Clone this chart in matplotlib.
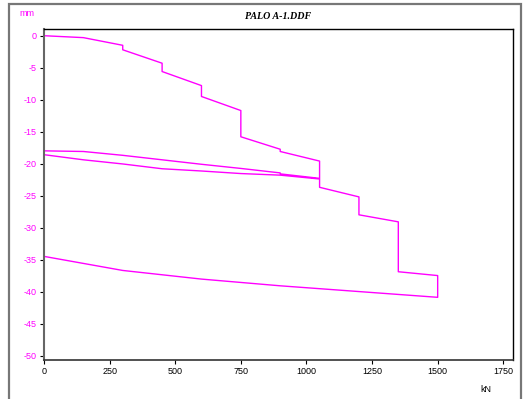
import matplotlib.pyplot as plt
from matplotlib.patches import Rectangle

# load test polyline (load in kN, settlement in mm)
load_kn = [0, 150, 300, 300, 450, 450, 600, 600, 750, 750, 900, 900, 1050,
           1050, 900, 900, 750, 600, 450, 300, 150, 0,
           0, 150, 300, 450, 600, 750, 900, 1050,
           1050, 1200, 1200, 1350, 1350, 1500,
           1500, 1200, 900, 600, 300, 0]
settle_mm = [0, -0.3, -1.5, -2.2, -4.3, -5.6, -7.8, -9.5, -11.7, -15.8, -17.75, -18.1, -19.6,
             -22.3, -21.6, -21.45, -20.75, -20.1, -19.4, -18.7, -18.1, -18.0,
             -18.6, -19.4, -20.05, -20.8, -21.15, -21.55, -21.8, -22.4,
             -23.7, -25.2, -28.0, -29.1, -36.9, -37.5,
             -40.9, -40.0, -39.1, -38.05, -36.7, -34.5]

x_ticks = [0, 250, 500, 750, 1000, 1250, 1500, 1750]
y_ticks = [0, -5, -10, -15, -20, -25, -30, -35, -40, -45, -50]

plt.rcParams['font.family'] = ['Liberation Sans', 'DejaVu Sans']
plt.rcParams['axes.unicode_minus'] = False

fig = plt.figure(figsize=(5.25, 3.99), dpi=100)
fig.patch.set_facecolor('white')

# outer frame
fig.patches.append(Rectangle((9 / 525, -0.05), 512 / 525, 1 - 4 / 399 + 0.05,
                             transform=fig.transFigure, fill=False,
                             edgecolor='#777777', linewidth=1.6))

ax = fig.add_axes([44 / 525, 1 - 360 / 399, (513 - 44) / 525, (360 - 29) / 399])
ax.plot(load_kn, settle_mm, color='#ff00ff', linewidth=1.0)

ax.set_xlim(0, 1787)
ax.set_ylim(-50.7, 1.05)
ax.set_xticks(x_ticks)
ax.set_yticks(y_ticks)
ax.tick_params(axis='x', labelsize=6.5, colors='black', length=3, width=0.8, pad=2)
ax.tick_params(axis='y', labelsize=6.5, labelcolor='#ff00ff', color='black',
               length=3, width=0.8, pad=2)

for side in ['top', 'right']:
    ax.spines[side].set_color('black')
    ax.spines[side].set_linewidth(1.0)
ax.spines['left'].set_color('#666666')
ax.spines['left'].set_linewidth(1.5)
ax.spines['bottom'].set_color('#333333')
ax.spines['bottom'].set_linewidth(1.2)

fig.text(278 / 525, 1 - 16.5 / 399, 'PALO A-1.DDF', ha='center', va='center',
         fontsize=7.2, fontweight='bold', fontstyle='italic',
         family=['Liberation Serif', 'DejaVu Serif'])
fig.text(27 / 525, 1 - 14 / 399, 'mm', ha='center', va='center',
         fontsize=6.5, color='#ff00ff')
fig.text(486 / 525, 1 - 390 / 399, 'kN', ha='center', va='center',
         fontsize=6.5, color='black')

fig.savefig('out.png', dpi=100)
